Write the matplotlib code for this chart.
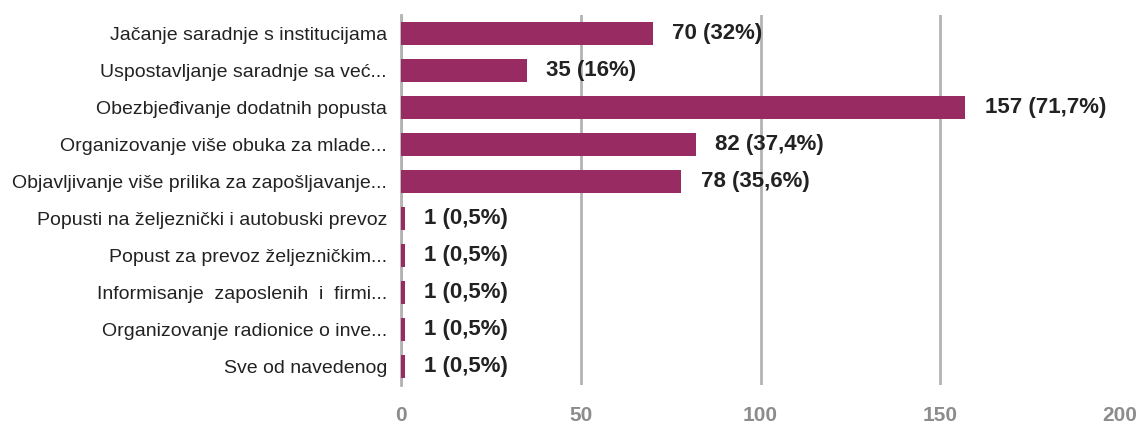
import matplotlib
matplotlib.use("Agg")
from matplotlib import pyplot as plt

categories = [
    "Jačanje saradnje s institucijama",
    "Uspostavljanje saradnje sa već...",
    "Obezbjeđivanje dodatnih popusta",
    "Organizovanje više obuka za mlade...",
    "Objavljivanje više prilika za zapošljavanje...",
    "Popusti na željeznički i autobuski prevoz",
    "Popust za prevoz željezničkim...",
    "Informisanje  zaposlenih  i  firmi...",
    "Organizovanje radionice o inve...",
    "Sve od navedenog",
]
counts = [70, 35, 157, 82, 78, 1, 1, 1, 1, 1]
percents = ["32%", "16%", "71,7%", "37,4%", "35,6%", "0,5%", "0,5%", "0,5%", "0,5%", "0,5%"]
xticks = [0, 50, 100, 150, 200]

plt.rcParams['font.family'] = ['Liberation Sans', 'DejaVu Sans']

fig = plt.figure(figsize=(11.44, 4.30), dpi=100)
ax = fig.add_axes([401 / 1144, 45 / 430, (1120 - 401) / 1144, 370 / 430])

bar_color = '#992B63'
ypos = list(range(len(categories)))
ax.barh(ypos, counts, height=0.6, color=bar_color, zorder=3)

for y, c, p in zip(ypos, counts, percents):
    ax.annotate(f"{c} ({p})", xy=(c, y), xytext=(14, 0), textcoords='offset points',
                va='center', ha='left', fontsize=16, fontweight='bold', color='#222222')

ax.set_xlim(0, 200)
ax.set_ylim(len(categories) - 0.5, -0.5)
ax.set_yticks(ypos)
ax.set_yticklabels(categories, fontsize=14, color='#222222')
ax.set_xticks(xticks)
ax.set_xticklabels([str(t) for t in xticks], fontsize=15, fontweight='bold', color='#8c8c8c')
ax.tick_params(axis='y', length=0, pad=10)
ax.tick_params(axis='x', length=0, pad=15)

ax.grid(axis='x', color='#b3b3b3', linewidth=2, zorder=0)
ax.xaxis.get_gridlines()[-1].set_visible(False)
for s in ['top', 'right', 'bottom']:
    ax.spines[s].set_visible(False)
ax.spines['left'].set_color('#b3b3b3')
ax.spines['left'].set_linewidth(2)

fig.savefig('out.png', dpi=100)
